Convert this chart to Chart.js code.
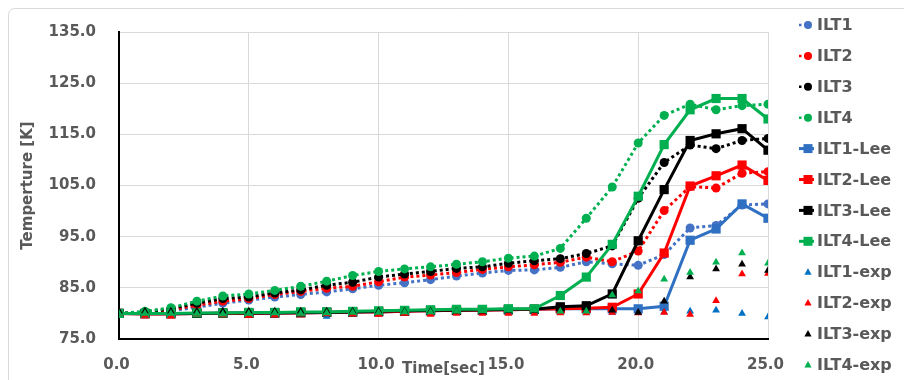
<!DOCTYPE html>
<html>
<head>
<meta charset="utf-8">
<script src="https://cdn.jsdelivr.net/npm/chart.js@4.4.1/dist/chart.umd.min.js"></script>
<style>
  html, body { margin: 0; padding: 0; background: #fff; }
  #wrap { width: 904px; height: 380px; }
</style>
</head>
<body>
<div id="wrap"><canvas id="chart" width="904" height="380"></canvas></div>
<script>
// time axis (sec) and temperatures [K]
const timeSec = [0, 1, 2, 3, 4, 5, 6, 7, 8, 9, 10, 11, 12, 13, 14, 15, 16, 17, 18, 19, 20, 21, 22, 23, 24, 25];

const ilt1 = [80.0, 80.2, 80.5, 81.2, 82.0, 82.6, 83.2, 83.7, 84.2, 84.8, 85.5, 86.0, 86.6, 87.3, 87.9, 88.4, 88.5, 89.0, 90.1, 89.7, 89.4, 91.5, 96.7, 97.2, 101.2, 101.4];
const ilt2 = [80.0, 80.2, 80.7, 81.6, 82.4, 82.9, 83.7, 84.3, 84.9, 85.3, 86.2, 87.1, 87.5, 88.0, 88.6, 89.1, 89.5, 90.0, 91.0, 90.1, 92.2, 100.1, 104.8, 104.5, 107.4, 107.7];
const ilt3 = [80.0, 80.2, 80.9, 82.0, 82.9, 83.2, 84.0, 84.6, 85.5, 86.1, 87.1, 87.7, 88.2, 88.8, 89.1, 89.8, 90.3, 90.7, 91.7, 93.2, 102.5, 109.5, 112.9, 112.2, 113.8, 114.2];
const ilt4 = [80.0, 80.4, 81.1, 82.4, 83.4, 83.8, 84.5, 85.3, 86.3, 87.4, 88.2, 88.7, 89.1, 89.6, 90.1, 90.8, 91.2, 92.7, 98.6, 104.7, 113.3, 118.7, 120.9, 119.8, 120.6, 120.9];

const ilt1Lee = [80.0, 79.9, 79.9, 80.0, 80.0, 80.0, 80.1, 80.1, 80.2, 80.3, 80.3, 80.4, 80.5, 80.6, 80.6, 80.7, 80.8, 80.9, 80.9, 80.9, 80.9, 81.4, 94.3, 96.5, 101.4, 98.6];
const ilt2Lee = [80.0, 79.9, 79.9, 80.0, 80.0, 80.0, 80.1, 80.1, 80.2, 80.3, 80.3, 80.4, 80.5, 80.6, 80.6, 80.7, 80.8, 80.9, 81.0, 81.2, 83.8, 91.8, 104.9, 106.9, 109.0, 106.0];
const ilt3Lee = [80.0, 80.0, 80.0, 80.0, 80.1, 80.1, 80.1, 80.2, 80.2, 80.3, 80.4, 80.5, 80.6, 80.6, 80.7, 80.8, 80.8, 81.3, 81.5, 83.8, 94.2, 104.2, 113.8, 115.1, 116.1, 111.9];
const ilt4Lee = [80.0, 80.0, 80.0, 80.1, 80.1, 80.2, 80.2, 80.3, 80.3, 80.4, 80.5, 80.6, 80.7, 80.8, 80.8, 80.9, 80.9, 83.5, 87.1, 93.5, 102.9, 113.0, 119.8, 122.0, 122.0, 118.0];

const ilt1Exp = [80.0, 79.8, 79.9, 80.0, 79.9, 80.0, 80.0, 80.0, 79.4, 80.1, 80.1, 80.1, 80.2, 80.2, 80.2, 80.2, 80.2, 80.2, 80.2, 80.2, 80.2, 80.3, 80.4, 80.6, 80.0, 79.3];
const ilt2Exp = [80.0, 79.6, 79.5, 79.9, 79.8, 79.6, 79.7, 79.9, 79.9, 79.9, 79.8, 80.0, 79.8, 80.0, 80.0, 80.0, 80.0, 80.1, 80.1, 80.2, 80.1, 80.2, 79.8, 82.5, 87.7, 87.8];
const ilt3Exp = [80.4, 80.4, 80.4, 80.4, 80.4, 80.4, 80.4, 80.4, 80.4, 80.4, 80.4, 80.4, 80.4, 80.4, 80.4, 80.5, 80.5, 80.5, 80.5, 80.6, 80.2, 82.4, 87.1, 88.7, 89.6, 88.4];
const ilt4Exp = [80.0, 80.0, 80.0, 80.0, 79.9, 80.0, 80.1, 80.0, 80.1, 80.2, 80.2, 80.3, 80.3, 80.4, 80.5, 80.6, 80.6, 80.4, 80.4, 83.6, 84.4, 86.7, 88.0, 90.0, 91.8, 89.8];

const yTicks = [75, 85, 95, 105, 115, 125, 135];
const xTicks = [0, 5, 10, 15, 20, 25];

const BLUE = "#4472c4";
const BLUE_LEE = "#2f70c2";
const BLUE_EXP = "#0070c0";
const RED = "#ff0000";
const BLACK = "#000000";
const GREEN = "#00b050";
const TEXT = "#595959";
const FONT = "'DejaVu Sans', Verdana, sans-serif";

const pts = (vals) => timeSec.map((t, i) => ({ x: t, y: vals[i] }));

function simSet(label, vals, color) {
  return {
    label, data: pts(vals), kind: "sim",
    borderColor: color, backgroundColor: color,
    borderWidth: 3, borderDash: [3, 3],
    pointStyle: "circle", pointRadius: 4.5, pointBorderWidth: 0,
    pointBackgroundColor: color,
  };
}
function leeSet(label, vals, color) {
  return {
    label, data: pts(vals), kind: "lee",
    borderColor: color, backgroundColor: color,
    borderWidth: 3,
    pointStyle: "rect", pointRadius: 6.5, pointBorderWidth: 0,
    pointBackgroundColor: color,
  };
}
function expSet(label, vals, color) {
  return {
    label, data: pts(vals), kind: "exp",
    showLine: false,
    borderColor: color, backgroundColor: color,
    pointStyle: "triangle", pointRadius: 4.5, pointBorderWidth: 0,
    pointBackgroundColor: color,
  };
}

const datasets = [
  simSet("ILT1", ilt1, BLUE),
  simSet("ILT2", ilt2, RED),
  simSet("ILT3", ilt3, BLACK),
  simSet("ILT4", ilt4, GREEN),
  leeSet("ILT1-Lee", ilt1Lee, BLUE_LEE),
  leeSet("ILT2-Lee", ilt2Lee, RED),
  leeSet("ILT3-Lee", ilt3Lee, BLACK),
  leeSet("ILT4-Lee", ilt4Lee, GREEN),
  expSet("ILT1-exp", ilt1Exp, BLUE_EXP),
  expSet("ILT2-exp", ilt2Exp, RED),
  expSet("ILT3-exp", ilt3Exp, BLACK),
  expSet("ILT4-exp", ilt4Exp, GREEN),
];
// later series on top, like the spreadsheet
datasets.forEach((d, i) => { d.order = datasets.length - i; d.tension = 0; });

// white background + light chart-area frame
const framePlugin = {
  id: "frame",
  beforeDraw(chart) {
    const ctx = chart.ctx;
    ctx.save();
    ctx.fillStyle = "#fff";
    ctx.fillRect(0, 0, chart.width, chart.height);
    ctx.strokeStyle = "#d9d9d9";
    ctx.lineWidth = 1;
    ctx.beginPath();
    ctx.roundRect(8.5, 8.5, chart.width + 10, chart.height + 10, 6);
    ctx.stroke();
    ctx.restore();
  },
};

// legend on the right: short line + marker, then the label
const legendPlugin = {
  id: "sideLegend",
  afterDraw(chart) {
    const ctx = chart.ctx;
    const x0 = 799, x1 = 814, mx = 808, tx = 817;
    ctx.save();
    chart.data.datasets.forEach((d, i) => {
      const y = 25 + i * 30.9;
      const c = d.borderColor;
      ctx.strokeStyle = c;
      ctx.fillStyle = c;
      if (d.kind === "sim") {
        ctx.lineWidth = 2.5;
        ctx.setLineDash([2.5, 2.5]);
        ctx.beginPath(); ctx.moveTo(x0, y); ctx.lineTo(mx, y); ctx.stroke();
        ctx.setLineDash([]);
        ctx.beginPath(); ctx.arc(mx, y, 4, 0, Math.PI * 2); ctx.fill();
      } else if (d.kind === "lee") {
        ctx.lineWidth = 3;
        ctx.beginPath(); ctx.moveTo(x0, y); ctx.lineTo(x1, y); ctx.stroke();
        ctx.fillRect(mx - 4.5, y - 4.5, 9, 9);
      } else {
        ctx.beginPath();
        ctx.moveTo(mx, y - 4);
        ctx.lineTo(mx + 3.6, y + 2.5);
        ctx.lineTo(mx - 3.6, y + 2.5);
        ctx.closePath(); ctx.fill();
      }
      ctx.fillStyle = TEXT;
      ctx.font = "bold 16px " + FONT;
      ctx.textBaseline = "middle";
      ctx.textAlign = "left";
      ctx.fillText(d.label, tx, y + 1);
    });
    ctx.restore();
  },
};

Chart.defaults.font.family = FONT;
Chart.defaults.color = TEXT;

new Chart(document.getElementById("chart"), {
  type: "line",
  data: { datasets },
  plugins: [framePlugin, legendPlugin],
  options: {
    responsive: false,
    animation: false,
    layout: { padding: { top: 29, right: 136, bottom: 0, left: 0 } },
    plugins: { legend: { display: false }, tooltip: { enabled: false } },
    scales: {
      x: {
        type: "linear",
        min: 0, max: 25,
        afterBuildTicks: (s) => { s.ticks = xTicks.map((v) => ({ value: v })); },
        afterFit: (s) => { s.height = 41; },
        grid: { color: "#d9d9d9", lineWidth: 1, drawTicks: false },
        border: { color: "#000", width: 2 },
        ticks: {
          padding: 17, labelOffset: -2.5,
          font: { size: 15, weight: "bold" }, color: TEXT,
          callback: (v) => Number(v).toFixed(1),
        },
        title: {
          display: true, text: "Time[sec]",
          font: { size: 15, weight: "bold" }, color: TEXT,
          padding: { top: 0, bottom: 2 },
        },
      },
      y: {
        min: 75, max: 135,
        afterBuildTicks: (s) => { s.ticks = yTicks.map((v) => ({ value: v })); },
        afterFit: (s) => { s.width = 119; },
        grid: { color: "#d9d9d9", lineWidth: 1, drawTicks: false },
        border: { color: "#000", width: 2 },
        ticks: {
          padding: 23,
          font: { size: 15, weight: "bold" }, color: TEXT,
          callback: (v) => Number(v).toFixed(1),
        },
        title: {
          display: true, text: "Temperture [K]",
          font: { size: 15, weight: "bold" }, color: TEXT,
          padding: { top: 19, bottom: 0 },
        },
      },
    },
  },
});
</script>
</body>
</html>
